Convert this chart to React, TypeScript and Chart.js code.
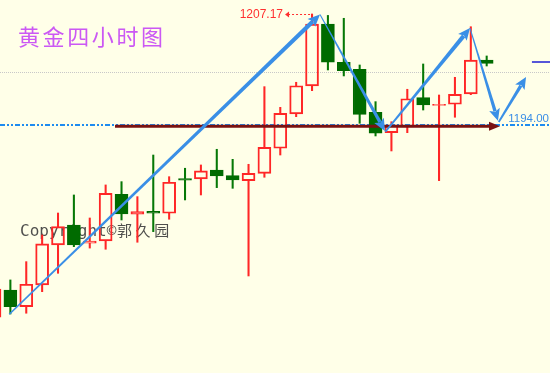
import { useEffect, useRef } from 'react';
import { Chart, registerables } from 'chart.js';

Chart.register(...registerables);

// Gold, 4-hour candles, oldest first (index 0 is partly off the left edge)
const candleIndex = [
  0, 1, 2, 3, 4, 5, 6, 7, 8, 9, 10, 11, 12, 13, 14, 15,
  16, 17, 18, 19, 20, 21, 22, 23, 24, 25, 26, 27, 28, 29, 30, 31,
];
const opens = [
  1171.2, 1174.43, 1172.45, 1175.02, 1179.77, 1182.14, 1179.97, 1180.24,
  1185.78, 1183.41, 1183.75, 1183.53, 1187.65, 1187.6, 1188.66, 1187.99,
  1187.4, 1188.27, 1191.24, 1195.31, 1198.63, 1205.98, 1201.44, 1200.61,
  1195.51, 1193.09, 1193.77, 1197.24, 1196.32, 1196.46, 1197.68, 1201.71,
];
const highs = [
  1175.3, 1175.62, 1177.79, 1180.95, 1183.56, 1185.7, 1182.97, 1186.89,
  1187.28, 1185.5, 1190.44, 1187.87, 1188.87, 1189.26, 1191.12, 1189.93,
  1189.34, 1198.55, 1196.1, 1199.07, 1207.17, 1207.0, 1206.66, 1201.12,
  1196.77, 1194.39, 1198.24, 1201.24, 1197.56, 1199.66, 1205.66, 1202.19,
];
const lows = [
  1170.6, 1171.58, 1171.67, 1174.23, 1176.41, 1179.57, 1179.4, 1179.26,
  1182.73, 1180.09, 1181.35, 1182.82, 1185.11, 1185.7, 1186.57, 1186.49,
  1176.09, 1187.8, 1190.44, 1194.99, 1198.07, 1200.53, 1199.82, 1194.2,
  1192.7, 1190.92, 1193.09, 1195.78, 1187.4, 1194.92, 1197.6, 1201.0,
];
const closes = [
  1174.55, 1172.45, 1175.11, 1179.89, 1181.94, 1179.77, 1180.24, 1185.9,
  1183.45, 1183.72, 1183.55, 1187.21, 1187.45, 1188.55, 1187.95, 1187.48,
  1188.27, 1191.36, 1195.39, 1198.66, 1205.98, 1201.44, 1200.44, 1195.27,
  1193.02, 1194.0, 1197.12, 1196.38, 1196.44, 1197.64, 1201.71, 1201.32,
];

// Marked levels
const peakIndex = 20;
const peakHigh = 1207.17;
const supportLevel = 1194.0;
const dottedLevel = 1200.25;
const lastPriceMark = 1201.44;
const lastPriceMarkFrom = 33.85;

// Horizontal support arrow (candle index range, price)
const supportArrowFrom = 7.59;
const supportArrowTo = 31.84;
const supportArrowPrice = 1193.85;

// Trend arrows: start / tip in (candle index, price)
const trendFromIdx = [0.93, 20.5, 24.62, 29.95, 31.76];
const trendFromPrice = [1171.55, 1207.1, 1193.2, 1205.5, 1194.35];
const trendToIdx = [20.5, 24.59, 29.95, 31.71, 33.48];
const trendToPrice = [1207.1, 1193.3, 1205.5, 1194.5, 1199.7];

const X_MIN = 0.3464;
const X_MAX = 34.988;
const Y_MIN = 1164.58;
const Y_MAX = 1208.83;

const BG = '#FFFFE8';
const UP = '#FF2626';
const DOWN_BODY = '#006B00';
const DOWN_WICK = '#067806';
const TREND_BLUE = '#3A8FE6';

function drawTaperedArrow(
  ctx: CanvasRenderingContext2D,
  x0: number, y0: number, x1: number, y1: number,
  w0: number, w1: number, headLen: number, headHalf: number, color: string,
) {
  const dx = x1 - x0;
  const dy = y1 - y0;
  const len = Math.hypot(dx, dy);
  const ux = dx / len;
  const uy = dy / len;
  const nx = -uy;
  const ny = ux;
  const bx = x1 - ux * headLen;
  const by = y1 - uy * headLen;
  const sx = bx + ux * 2;
  const sy = by + uy * 2;
  ctx.fillStyle = color;
  ctx.beginPath();
  ctx.moveTo(x0 + (nx * w0) / 2, y0 + (ny * w0) / 2);
  ctx.lineTo(sx + (nx * w1) / 2, sy + (ny * w1) / 2);
  ctx.lineTo(sx - (nx * w1) / 2, sy - (ny * w1) / 2);
  ctx.lineTo(x0 - (nx * w0) / 2, y0 - (ny * w0) / 2);
  ctx.closePath();
  ctx.fill();
  ctx.beginPath();
  ctx.moveTo(x1, y1);
  ctx.lineTo(bx + nx * headHalf, by + ny * headHalf);
  ctx.lineTo(bx + ux * 2.5, by + uy * 2.5);
  ctx.lineTo(bx - nx * headHalf, by - ny * headHalf);
  ctx.closePath();
  ctx.fill();
}

const overlayPlugin = {
  id: 'goldOverlay',
  beforeDatasetsDraw(chart: any) {
    const { ctx, chartArea, scales } = chart;
    const y = scales.y;
    ctx.save();

    // title
    ctx.fillStyle = '#CB58F4';
    ctx.font = '22px "Noto Sans CJK SC"';
    ctx.textBaseline = 'middle';
    ctx.textAlign = 'left';
    (ctx as any).letterSpacing = '2.6px';
    ctx.fillText('黄金四小时图', 18, 37);
    (ctx as any).letterSpacing = '0px';

    // watermark
    ctx.fillStyle = 'rgba(60,60,60,0.9)';
    ctx.textBaseline = 'alphabetic';
    ctx.font = '16px "DejaVu Sans Mono"';
    ctx.fillText('Copyright©', 20, 236);
    ctx.font = '15px "Noto Sans CJK SC"';
    (ctx as any).letterSpacing = '3.6px';
    ctx.fillText('郭久园', 117, 236);
    (ctx as any).letterSpacing = '0px';

    // dotted grey level
    const yd = Math.round(y.getPixelForValue(dottedLevel)) + 0.5;
    ctx.strokeStyle = '#C8C8C8';
    ctx.lineWidth = 1;
    ctx.setLineDash([1, 1]);
    ctx.beginPath();
    ctx.moveTo(chartArea.left, yd);
    ctx.lineTo(chartArea.right, yd);
    ctx.stroke();

    // dash-dot support level
    const ys = Math.round(y.getPixelForValue(supportLevel));
    ctx.strokeStyle = '#1E8CF0';
    ctx.lineWidth = 2;
    ctx.setLineDash([5, 2, 2, 2, 2, 2]);
    ctx.beginPath();
    ctx.moveTo(chartArea.left, ys);
    ctx.lineTo(chartArea.right, ys);
    ctx.stroke();
    ctx.setLineDash([]);
    ctx.restore();
  },
  afterDatasetsDraw(chart: any) {
    const { ctx, chartArea, scales } = chart;
    const x = scales.x;
    const y = scales.y;
    ctx.save();

    // support arrow
    const ya = y.getPixelForValue(supportArrowPrice);
    const xa0 = x.getPixelForValue(supportArrowFrom);
    const xa1 = x.getPixelForValue(supportArrowTo);
    ctx.strokeStyle = '#7A1212';
    ctx.fillStyle = '#7A1212';
    ctx.lineWidth = 3;
    ctx.beginPath();
    ctx.moveTo(xa0, ya);
    ctx.lineTo(xa1 - 8, ya);
    ctx.stroke();
    ctx.beginPath();
    ctx.moveTo(xa1, ya);
    ctx.lineTo(xa1 - 11, ya - 4.5);
    ctx.lineTo(xa1 - 11, ya + 4.5);
    ctx.closePath();
    ctx.fill();

    // last price mark on the right
    const ym = Math.round(y.getPixelForValue(lastPriceMark));
    ctx.strokeStyle = '#5656D8';
    ctx.lineWidth = 2;
    ctx.beginPath();
    ctx.moveTo(x.getPixelForValue(lastPriceMarkFrom), ym);
    ctx.lineTo(chartArea.right, ym);
    ctx.stroke();

    // support label
    const ys = y.getPixelForValue(supportLevel);
    ctx.fillStyle = '#3A8EE6';
    ctx.font = '11.5px "Liberation Sans"';
    ctx.textAlign = 'right';
    ctx.textBaseline = 'alphabetic';
    ctx.fillText(supportLevel.toFixed(2), chartArea.right - 1, ys - 3.5);

    // peak label with dashed pointer
    const yp = Math.round(y.getPixelForValue(peakHigh)) + 0.5;
    const xp = x.getPixelForValue(peakIndex);
    const xStart = xp - 27;
    ctx.strokeStyle = '#FF3030';
    ctx.fillStyle = '#FF3030';
    ctx.lineWidth = 1;
    ctx.setLineDash([2, 2]);
    ctx.beginPath();
    ctx.moveTo(xStart + 3, yp);
    ctx.lineTo(xp - 1, yp);
    ctx.stroke();
    ctx.setLineDash([]);
    ctx.beginPath();
    ctx.moveTo(xStart, yp);
    ctx.lineTo(xStart + 4, yp - 3);
    ctx.lineTo(xStart + 4, yp + 3);
    ctx.closePath();
    ctx.fill();
    ctx.font = '12px "Liberation Sans"';
    ctx.textAlign = 'right';
    ctx.textBaseline = 'middle';
    ctx.fillText(peakHigh.toFixed(2), xStart - 2, yp);

    // trend arrows
    const widths = [
      [1.6, 4.4],
      [1, 3.4],
      [1.8, 4.2],
      [1, 3.4],
      [1.8, 3.4],
    ];
    for (let i = 0; i < trendFromIdx.length; i++) {
      drawTaperedArrow(
        ctx,
        x.getPixelForValue(trendFromIdx[i]),
        y.getPixelForValue(trendFromPrice[i]),
        x.getPixelForValue(trendToIdx[i]),
        y.getPixelForValue(trendToPrice[i]),
        widths[i][0],
        widths[i][1],
        12,
        5.5,
        TREND_BLUE,
      );
    }
    ctx.restore();
  },
};

export default function App() {
  const canvasRef = useRef<HTMLCanvasElement | null>(null);

  useEffect(() => {
    const canvas = canvasRef.current;
    if (!canvas) return;
    const isUp = candleIndex.map((_, i) => closes[i] >= opens[i]);
    const wickColors = isUp.map((u) => (u ? UP : DOWN_WICK));
    const wickStyle = {
      backgroundColor: wickColors,
      borderWidth: 0,
      barThickness: 1.4,
      grouped: false,
    };

    const chart = new Chart(canvas, {
      type: 'bar',
      data: {
        datasets: [
          {
            label: 'body',
            data: candleIndex.map((i) => ({ x: i, y: [opens[i], closes[i]] })) as any,
            backgroundColor: isUp.map((u) => (u ? 'rgba(0,0,0,0)' : DOWN_BODY)),
            borderColor: isUp.map((u) => (u ? UP : DOWN_BODY)),
            borderWidth: 1.3,
            borderSkipped: false,
            barThickness: 13,
            grouped: false,
          } as any,
          {
            label: 'upper wick',
            data: candleIndex.map((i) => ({
              x: i,
              y: [Math.max(opens[i], closes[i]), highs[i]],
            })) as any,
            ...wickStyle,
          } as any,
          {
            label: 'lower wick',
            data: candleIndex.map((i) => ({
              x: i,
              y: [lows[i], Math.min(opens[i], closes[i])],
            })) as any,
            ...wickStyle,
          } as any,
        ],
      },
      options: {
        responsive: false,
        animation: false,
        layout: { padding: 0 },
        plugins: {
          legend: { display: false },
          tooltip: { enabled: false },
          title: { display: false },
        },
        scales: {
          x: { type: 'linear', min: X_MIN, max: X_MAX, display: false, offset: false },
          y: { type: 'linear', min: Y_MIN, max: Y_MAX, display: false },
        },
      },
      plugins: [overlayPlugin],
    });
    return () => chart.destroy();
  }, []);

  return (
    <div
      style={{
        position: 'fixed',
        left: 0,
        top: 0,
        width: 550,
        height: 373,
        background: BG,
      }}
    >
      <canvas ref={canvasRef} width={550} height={373} style={{ display: 'block' }} />
    </div>
  );
}
